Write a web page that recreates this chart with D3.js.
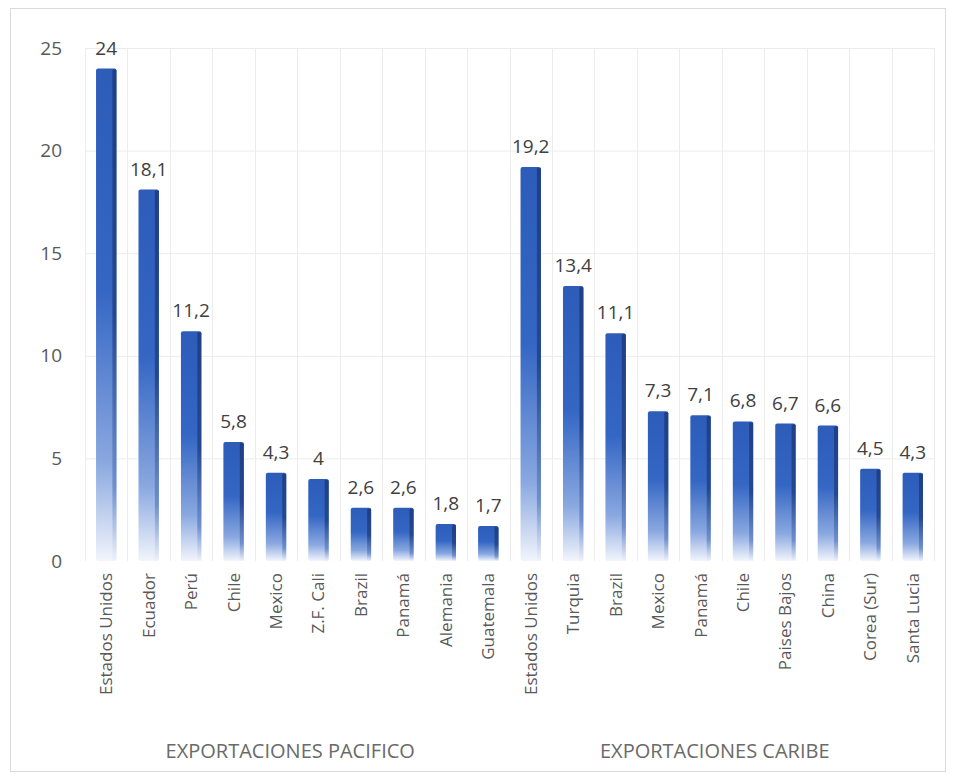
<!DOCTYPE html>
<html><head><meta charset="utf-8">
<script src="https://cdn.jsdelivr.net/npm/d3@7"></script>
<style>body{margin:0;background:#fff;} text{font-family:"Open Sans",sans-serif;}</style>
</head><body><svg id="c" width="956" height="779"></svg>
<script>
const groupNames = ["EXPORTACIONES PACIFICO", "EXPORTACIONES CARIBE"];
const pacificoCategories = ["Estados Unidos","Ecuador","Perú","Chile","Mexico","Z.F. Cali","Brazil","Panamá","Alemania","Guatemala"];
const pacificoValues = [24, 18.1, 11.2, 5.8, 4.3, 4, 2.6, 2.6, 1.8, 1.7];
const caribeCategories = ["Estados Unidos","Turquia","Brazil","Mexico","Panamá","Chile","Paises Bajos","China","Corea (Sur)","Santa Lucia"];
const caribeValues = [19.2, 13.4, 11.1, 7.3, 7.1, 6.8, 6.7, 6.6, 4.5, 4.3];
const yTicks = [0, 5, 10, 15, 20, 25];

const data = [];
pacificoCategories.forEach((c,i)=>data.push({idx:data.length, cat:c, v:pacificoValues[i], g:0}));
caribeCategories.forEach((c,i)=>data.push({idx:data.length, cat:c, v:caribeValues[i], g:1}));

const svg = d3.select("#c");
const L=85, R=934, T=48, B=561;
const x = d3.scaleBand().domain(data.map(d=>d.idx)).range([L,R]).paddingInner(0.52).paddingOuter(0.26);
const xb = d3.scaleBand().domain(data.map(d=>d.idx)).range([L,R]);
const y = d3.scaleLinear().domain([0,25]).range([B,T]);

// border
svg.append("rect").attr("x",10.5).attr("y",8.5).attr("width",935).attr("height",763)
  .attr("fill","#fff").attr("stroke","#d9d9d9");

const defs = svg.append("defs");
const g1 = defs.append("linearGradient").attr("id","bar").attr("x1",0).attr("y1",0).attr("x2",0).attr("y2",1);
[[0,"#2d5cb9"],[0.45,"#3466c4"],[0.8,"#8aa8e0"],[1,"#f2f5fc"]].forEach(s=>g1.append("stop").attr("offset",s[0]).attr("stop-color",s[1]));
const g2 = defs.append("linearGradient").attr("id","side").attr("x1",0).attr("y1",0).attr("x2",0).attr("y2",1);
[[0,"#1f3f86"],[0.5,"#24488f"],[0.85,"#6f8fcf"],[1,"#eef2fb"]].forEach(s=>g2.append("stop").attr("offset",s[0]).attr("stop-color",s[1]));

// gridlines
svg.append("g").selectAll("line").data(yTicks.filter(t=>t>0)).join("line")
  .attr("x1",L).attr("x2",R).attr("y1",d=>y(d)+0.5).attr("y2",d=>y(d)+0.5)
  .attr("stroke","#ececec");
svg.append("g").selectAll("line").data(d3.range(data.length+1)).join("line")
  .attr("x1",i=>Math.round(L+i*xb.bandwidth())+0.5).attr("x2",i=>Math.round(L+i*xb.bandwidth())+0.5)
  .attr("y1",T).attr("y2",B).attr("stroke","#ececec");

// y axis
const yAxis = svg.append("g").attr("transform",`translate(${L-23},0)`)
  .call(d3.axisLeft(y).tickValues(yTicks).tickSize(0).tickPadding(0));
yAxis.select(".domain").remove();
yAxis.selectAll("text").attr("font-size",19).attr("fill","#595959").attr("font-family","'Open Sans',sans-serif");

// bars
const bars = svg.append("g").selectAll("g").data(data).join("g");
bars.append("rect").attr("x",d=>x(d.idx)).attr("y",d=>y(d.v)).attr("width",x.bandwidth())
  .attr("height",d=>B-y(d.v)).attr("rx",2).attr("fill","url(#bar)");
bars.append("rect").attr("x",d=>x(d.idx)+x.bandwidth()-4).attr("y",d=>y(d.v)+1).attr("width",4)
  .attr("height",d=>B-y(d.v)-1).attr("rx",1).attr("fill","url(#side)");

// data labels
svg.append("g").selectAll("text").data(data).join("text")
  .attr("x",d=>x(d.idx)+x.bandwidth()/2).attr("y",d=>y(d.v)-14)
  .attr("text-anchor","middle").attr("font-size",19).attr("fill","#404040")
  .text(d=>String(d.v).replace(".",","));

// category labels
svg.append("g").selectAll("text").data(data).join("text")
  .attr("transform",d=>`translate(${xb(d.idx)+xb.bandwidth()/2+6},573) rotate(-90)`)
  .attr("text-anchor","end").attr("font-size",17).attr("fill","#595959")
  .text(d=>d.cat);

// group labels
groupNames.forEach((n,gi)=>{
  const items = data.filter(d=>d.g===gi);
  const x0 = xb(items[0].idx), x1 = xb(items[items.length-1].idx)+xb.bandwidth();
  svg.append("text").attr("x",(x0+x1)/2-7).attr("y",758).attr("text-anchor","middle")
    .attr("font-size",20).attr("fill","#6a6a6a").text(n);
});
</script></body></html>
